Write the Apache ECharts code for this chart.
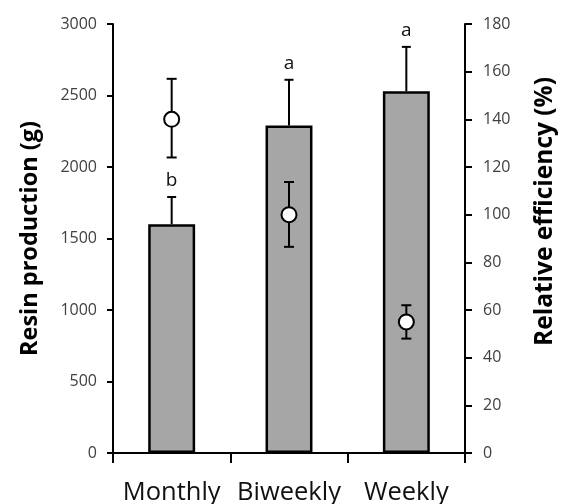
<!DOCTYPE html>
<html>
<head>
<meta charset="utf-8">
<script src="https://cdn.jsdelivr.net/npm/echarts@6/dist/echarts.min.js"></script>
<style>html,body{margin:0;padding:0;background:#fff;}#c{width:562px;height:504px;}</style>
</head>
<body>
<div id="c"></div>
<script>
const categories = ['Monthly', 'Biweekly', 'Weekly'];
const resin = [1600, 2290, 2530];
const resinErrTop = [1790, 2610, 2840];
const letters = ['b', 'a', 'a'];
const efficiency = [140, 100, 55];
const effLow = [124, 86.5, 48];
const effHigh = [157, 113.7, 62];
const leftTicks = [0, 500, 1000, 1500, 2000, 2500, 3000];
const rightTicks = [0, 20, 40, 60, 80, 100, 120, 140, 160, 180];

const FONT = 'Open Sans';
const chart = echarts.init(document.getElementById('c'));
const lineStyle = {stroke: '#000', lineWidth: 2};

chart.setOption({
  animation: false,
  grid: {left: 113, right: 97, top: 24, bottom: 51, containLabel: false, outerBoundsMode: 'none'},
  xAxis: {
    type: 'category',
    data: categories,
    boundaryGap: true,
    axisLine: {lineStyle: {color: '#000', width: 2}},
    axisTick: {show: true, interval: 0, length: 10, lineStyle: {color: '#000', width: 2}},
    axisLabel: {interval: 0, color: '#111', fontFamily: FONT, fontSize: 25.5, margin: 27}
  },
  yAxis: [
    {
      type: 'value', min: leftTicks[0], max: leftTicks[leftTicks.length - 1], interval: 500,
      name: 'Resin production (g)', nameLocation: 'middle', nameGap: 71,
      nameTextStyle: {color: '#000', fontFamily: FONT, fontSize: 23.5, fontWeight: 'bold'},
      axisLine: {show: true, lineStyle: {color: '#000', width: 2}},
      axisTick: {show: true, length: 6, lineStyle: {color: '#000', width: 2}},
      axisLabel: {color: '#404040', fontFamily: FONT, fontSize: 16, margin: 16,
        formatter: function (v) { return String(v); }},
      splitLine: {show: false}
    },
    {
      type: 'value', min: rightTicks[0], max: rightTicks[rightTicks.length - 1], interval: 20,
      position: 'right',
      name: 'Relative efficiency (%)', nameLocation: 'middle', nameGap: 68,
      nameTextStyle: {color: '#000', fontFamily: FONT, fontSize: 24.5, fontWeight: 'bold',
        padding: [0, 0, 0, 54]},
      axisLine: {show: true, lineStyle: {color: '#000', width: 2}},
      axisTick: {show: true, length: 7, lineStyle: {color: '#000', width: 2}},
      axisLabel: {color: '#404040', fontFamily: FONT, fontSize: 16, margin: 18},
      splitLine: {show: false}
    }
  ],
  series: [
    {
      type: 'bar', yAxisIndex: 0, data: resin, barWidth: '40%',
      itemStyle: {color: '#a6a6a6', borderColor: '#000', borderWidth: 2.5},
      z: 2
    },
    {
      type: 'custom', yAxisIndex: 0, z: 3,
      data: resin.map((v, i) => [i, v, resinErrTop[i]]),
      renderItem: function (params, api) {
        const i = api.value(0);
        const p0 = api.coord([i, api.value(1)]);
        const p1 = api.coord([i, api.value(2)]);
        const cap = 4.5;
        return {type: 'group', children: [
          {type: 'line', shape: {x1: p0[0], y1: p0[1], x2: p1[0], y2: p1[1]}, style: lineStyle},
          {type: 'line', shape: {x1: p1[0] - cap, y1: p1[1], x2: p1[0] + cap, y2: p1[1]}, style: lineStyle},
          {type: 'text', x: p1[0], y: p1[1] - 7, style: {
            text: letters[params.dataIndex], fill: '#111', font: '19px "' + FONT + '"',
            align: 'center', verticalAlign: 'bottom'}}
        ]};
      }
    },
    {
      type: 'custom', yAxisIndex: 1, z: 4,
      data: efficiency.map((v, i) => [i, effLow[i], effHigh[i]]),
      renderItem: function (params, api) {
        const i = api.value(0);
        const p0 = api.coord([i, api.value(1)]);
        const p1 = api.coord([i, api.value(2)]);
        const cap = 5;
        return {type: 'group', children: [
          {type: 'line', shape: {x1: p0[0], y1: p0[1], x2: p1[0], y2: p1[1]}, style: lineStyle},
          {type: 'line', shape: {x1: p1[0] - cap, y1: p1[1], x2: p1[0] + cap, y2: p1[1]}, style: lineStyle},
          {type: 'line', shape: {x1: p0[0] - cap, y1: p0[1], x2: p0[0] + cap, y2: p0[1]}, style: lineStyle}
        ]};
      }
    },
    {
      type: 'scatter', yAxisIndex: 1, z: 5, data: efficiency,
      symbol: 'circle', symbolSize: 15,
      itemStyle: {color: '#fff', borderColor: '#000', borderWidth: 2, opacity: 1}
    }
  ]
});
</script>
</body>
</html>
